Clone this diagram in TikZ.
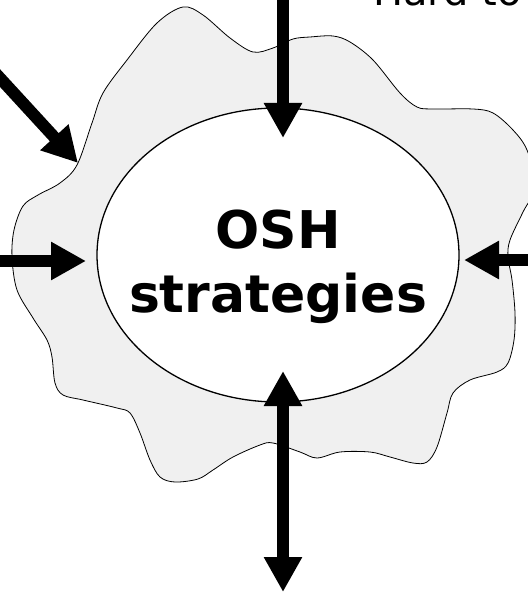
\documentclass[tikz,border=0pt]{standalone}
\usepackage{fontspec}
\setmainfont{DejaVu Sans}
\usetikzlibrary{arrows.meta,shapes.geometric}
\definecolor{blobgray}{RGB}{240,240,240}
\tikzset{
  bigarrow/.style={line width=12pt,-{Triangle[length=35pt,width=36pt]}},
  bigdouble/.style={line width=12pt,{Triangle[length=35pt,width=36pt]}-{Triangle[length=35pt,width=36pt]}},
  blob/.style={draw=black,line width=0.8pt,fill=blobgray}
}
\begin{document}
\begin{tikzpicture}[x=1pt,y=-1pt]
				\useasboundingbox (0,0) rectangle (527,593);
				\draw [blob] plot [smooth cycle,tension=0.55] coordinates {
					(60,183) (77,165) (92,123) (103,93) (127,60) (157,23) (183,7) (203,15)
					(230,38) (253,52) (273,48) (293,39) (310,37) (333,36) (350,42) (373,60)
					(400,93) (417,107) (433,109) (473,109) (493,113) (513,130) (527,150)
					(536,185) (523,212) (510,240) (508,257) (512,280) (515,313) (514,340)
					(508,363) (497,372) (470,380) (453,393) (447,413) (437,447) (427,462)
					(413,463) (390,457) (370,452) (340,452) (317,458) (300,452) (273,443)
					(260,445) (233,457) (213,470) (198,479) (175,482) (160,477) (150,460)
					(140,433) (130,413) (117,408) (83,400) (63,395) (55,383) (52,357)
					(47,340) (33,318) (17,290) (12,257) (14,230) (23,206) (38,195)};
				\node [draw,ellipse,line width=1.3pt,fill=white,minimum width=362pt,minimum height=294pt,
					inner sep=0pt] (osh) at (278,255) {};
				\node [align=center,inner sep=0pt,text height=114pt,text depth=0pt,
					font=\fontsize{52}{64}\selectfont\bfseries] (oshtext) at (osh.center) {OSH\\strategies};
				\node [anchor=base west,inner sep=0pt,font=\fontsize{40}{48}\selectfont] (hardto) at (373,6) {Hard to};
				% free ends and tips of the arrows
				\coordinate (topstart) at (283,-10);
				\coordinate (toptip) at (283,138);
				\coordinate (diagstart) at (-12,65);
				\coordinate (diagtip) at (78,163);
				\coordinate (leftstart) at (-10,261);
				\coordinate (lefttip) at (86,261);
				\coordinate (rightstart) at (537,260);
				\coordinate (righttip) at (464,260);
				\coordinate (bottomtip) at (283,371);
				\coordinate (bottomend) at (283,592);
				\draw [bigarrow] (topstart)--(toptip);
				\draw [bigarrow] (diagstart)--(diagtip);
				\draw [bigarrow] (leftstart)--(lefttip);
				\draw [bigarrow] (rightstart)--(righttip);
				\draw [bigdouble] (bottomtip)--(bottomend);
\end{tikzpicture}
\end{document}
